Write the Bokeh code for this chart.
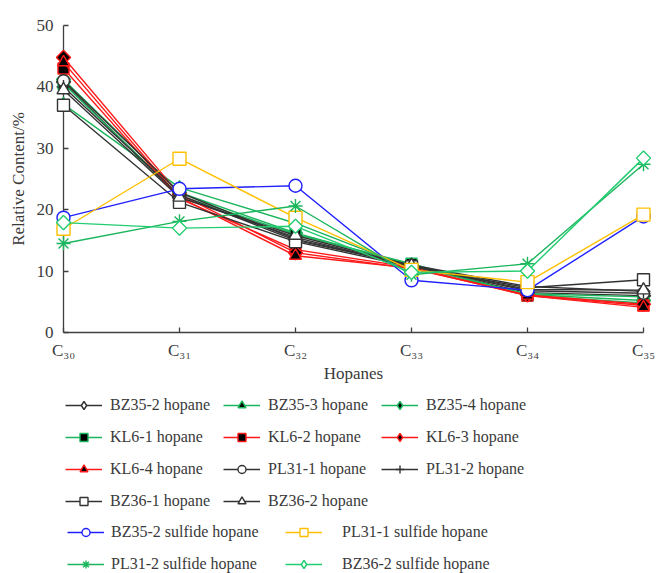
import math
from bokeh.plotting import figure
from bokeh.models import Range1d, Legend, LegendItem, FixedTicker
from bokeh.layouts import column
from bokeh.embed import file_html
from bokeh.resources import INLINE

# ---------------- data ----------------
x_pos = [0, 1, 2, 3, 4, 5]
tick_labels = ["C₃₀", "C₃₁", "C₃₂", "C₃₃", "C₃₄", "C₃₅"]

names = [
    "BZ35-2 hopane", "BZ35-3 hopane", "BZ35-4 hopane",
    "KL6-1 hopane", "KL6-2 hopane", "KL6-3 hopane",
    "KL6-4 hopane", "PL31-1 hopane", "PL31-2 hopane",
    "BZ36-1 hopane", "BZ36-2 hopane",
    "BZ35-2 sulfide hopane", "PL31-1 sulfide hopane",
    "PL31-2 sulfide hopane", "BZ36-2 sulfide hopane",
]

bz35_2 = [40.8, 22.0, 15.5, 10.8, 6.5, 6.0]
bz35_3 = [37.2, 23.6, 17.8, 10.5, 6.3, 5.8]
bz35_4 = [41.2, 22.8, 16.2, 11.0, 6.2, 5.2]
kl6_1 = [40.5, 22.3, 16.0, 11.2, 6.0, 4.8]
kl6_2 = [43.0, 21.8, 13.5, 10.6, 6.0, 4.4]
kl6_3 = [44.8, 22.5, 13.0, 10.4, 6.1, 4.6]
kl6_4 = [44.0, 22.0, 12.5, 10.5, 6.0, 4.1]
pl31_1 = [41.0, 22.8, 15.2, 10.9, 6.8, 6.4]
pl31_2 = [40.0, 22.4, 15.0, 11.0, 7.5, 6.7]
bz36_1 = [37.0, 21.2, 14.8, 10.7, 7.3, 8.6]
bz36_2 = [39.5, 22.0, 15.8, 10.9, 7.0, 6.9]
bz35_2_s = [18.7, 23.4, 23.9, 8.5, 6.9, 18.9]
pl31_1_s = [16.9, 28.3, 18.7, 10.2, 8.2, 19.2]
pl31_2_s = [14.5, 18.1, 20.6, 9.4, 11.2, 27.4]
bz36_2_s = [17.9, 17.0, 17.3, 9.8, 10.0, 28.4]

values = [bz35_2, bz35_3, bz35_4, kl6_1, kl6_2, kl6_3, kl6_4, pl31_1, pl31_2,
          bz36_1, bz36_2, bz35_2_s, pl31_1_s, pl31_2_s, bz36_2_s]

# ---------------- styles ----------------
BLK = "#333333"
GRN = "#1BB55C"
RED = "#FF1A1A"
BLU = "#2020FF"
YEL = "#FFC000"
GRN2 = "#22CC70"
D = math.pi / 4  # rotated square = diamond

# (line color, marker, angle, marker line color, marker fill color, size)
styles = [
    (BLK, "square", D, BLK, "white", 10),
    (GRN, "triangle", 0, GRN, "black", 12),
    (GRN, "square", D, GRN, "black", 10),
    (GRN, "square", 0, GRN, "black", 11),
    (RED, "square", 0, RED, "black", 11),
    (RED, "square", D, RED, "black", 10),
    (RED, "triangle", 0, RED, "black", 12),
    (BLK, "circle", 0, BLK, "white", 12),
    (BLK, "cross", 0, BLK, None, 14),
    (BLK, "square", 0, BLK, "white", 12),
    (BLK, "triangle", 0, BLK, "white", 13),
    (BLU, "circle", 0, BLU, "white", 13),
    (YEL, "square", 0, YEL, "white", 13),
    (GRN, "asterisk", 0, GRN, None, 14),
    (GRN2, "square", D, GRN2, "white", 10),
]

FONT = "Liberation Serif"
TXT = "#3a3a3a"

# ---------------- main chart ----------------
p = figure(width=656, height=390, output_backend="svg", toolbar_location=None,
           x_range=Range1d(0, 5), y_range=Range1d(0, 50),
           min_border_left=63, min_border_right=13, min_border_top=25,
           min_border_bottom=58)
p.outline_line_color = None
p.xgrid.visible = False
p.ygrid.visible = False
p.background_fill_color = "white"
p.border_fill_color = "white"

for ax in (p.xaxis[0], p.yaxis[0]):
    ax.axis_line_color = "#404040"
    ax.axis_line_width = 1.3
    ax.major_tick_line_color = "#404040"
    ax.major_tick_line_width = 1.3
    ax.major_tick_in = 5
    ax.major_tick_out = 0
    ax.minor_tick_line_color = None
    ax.major_label_text_font = FONT
    ax.major_label_text_font_size = "17px"
    ax.major_label_text_color = TXT
    ax.axis_label_text_font = FONT
    ax.axis_label_text_font_size = "17px"
    ax.axis_label_text_color = TXT
    ax.axis_label_text_font_style = "normal"

p.xaxis[0].ticker = FixedTicker(ticks=x_pos)
p.xaxis[0].major_label_overrides = {i: t for i, t in zip(x_pos, tick_labels)}
p.xaxis[0].major_label_standoff = 8
p.xaxis[0].axis_label = "Hopanes"
p.xaxis[0].axis_label_standoff = 1
p.yaxis[0].ticker = FixedTicker(ticks=[0, 10, 20, 30, 40, 50])
p.yaxis[0].major_label_standoff = 10
p.yaxis[0].axis_label = "Relative Content/%"
p.yaxis[0].axis_label_standoff = 6

for name, ys, (lc, mk, ang, mlc, mfc, sz) in zip(names, values, styles):
    lr = p.line(x_pos, ys, line_color=lc, line_width=1.4)
    sr = p.scatter(x_pos, ys, marker=mk, angle=ang, size=sz, line_color=mlc,
                   line_width=1.4, fill_color=mfc if mfc else "white",
                   fill_alpha=1.0 if mfc else 0.0)
    lr.level = "overlay"
    sr.level = "overlay"

# ---------------- legend panel ----------------
q = figure(width=656, height=183, output_backend="svg", toolbar_location=None,
           x_range=Range1d(0, 5), y_range=Range1d(1000, 1001),
           x_axis_location=None, y_axis_location=None,
           min_border_left=0, min_border_right=0, min_border_top=0,
           min_border_bottom=0)
q.outline_line_color = None
q.xgrid.visible = False
q.ygrid.visible = False
q.background_fill_color = "white"
q.border_fill_color = "white"

items = []
for name, ys, (lc, mk, ang, mlc, mfc, sz) in zip(names, values, styles):
    lmk = "diamond" if ang else mk
    lsz = 15 if ang else sz
    lr = q.line(x_pos, ys, line_color=lc, line_width=1.4)
    sr = q.scatter(x_pos, ys, marker=lmk, size=lsz, line_color=mlc,
                   line_width=1.4, fill_color=mfc if mfc else "white",
                   fill_alpha=1.0 if mfc else 0.0)
    items.append(LegendItem(label=name, renderers=[lr, sr]))


def make_legend(its, ncols, loc, label_width, standoff):
    return Legend(items=its, location=loc, orientation="horizontal", ncols=ncols,
                  glyph_width=37, glyph_height=20, label_height=20,
                  label_width=label_width, label_standoff=standoff, spacing=12,
                  padding=0, margin=0, border_line_color=None,
                  background_fill_alpha=0,
                  label_text_font=FONT, label_text_font_size="16px",
                  label_text_color=TXT)


leg1 = make_legend(items[:11], 3, (2, 62), 101, 8)
leg2 = make_legend([items[11], items[13]], 1, (4, -1), 150, 7)
leg3 = make_legend([items[12], items[14]], 1, (222, -1), 150, 20)
q.add_layout(leg1, "center")
q.add_layout(leg2, "center")
q.add_layout(leg3, "center")

layout = column(p, q, spacing=0)
open("out.html", "w").write(file_html(layout, INLINE))
